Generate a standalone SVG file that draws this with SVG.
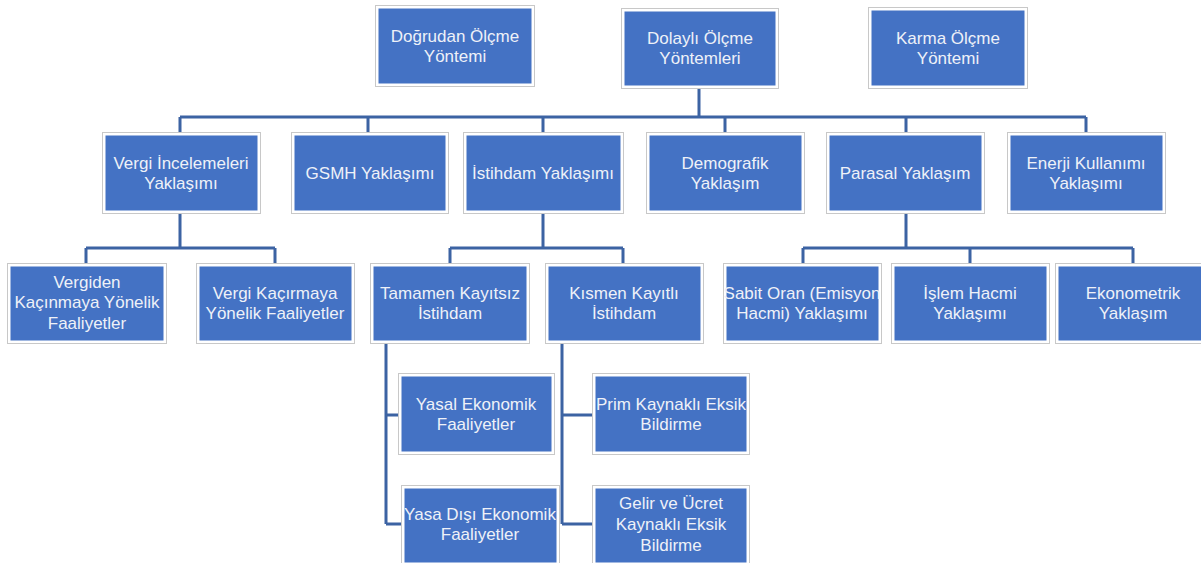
<svg xmlns="http://www.w3.org/2000/svg" width="1201" height="563" viewBox="0 0 1201 563">
<style>
.o{fill:#ffffff;stroke:#c8c8c8;stroke-width:1}
.b{fill:#4472C4}
.t{font-family:"Liberation Sans",Arial,sans-serif;font-size:17px;fill:#EEF1F8;text-anchor:middle}
.c{fill:none;stroke:#3C63A3;stroke-width:3}
</style>
<rect width="1201" height="563" fill="#ffffff"/>
<g id="connectors">
<path class="c" d="M699,88 V117 M180,117 H1086 M180,117 V132 M368,117 V132 M543,117 V132 M725,117 V132 M906,117 V132 M1086,117 V132"/>
<path class="c" d="M180,213 V248 M86,248 H275 M86,248 V263 M275,248 V263"/>
<path class="c" d="M543,213 V248 M450,248 H623 M450,248 V263 M623,248 V263"/>
<path class="c" d="M906,213 V248 M803,248 H1133 M803,248 V263 M970,248 V263 M1133,248 V263"/>
<path class="c" d="M386,343 V524 M386,415 H398 M386,524 H401"/>
<path class="c" d="M562,343 V524 M562,415 H592 M562,524 H592"/>
</g>
<g id="n1"><rect class="o" x="375.5" y="5.5" width="159" height="81"/><rect class="b" x="378.5" y="8.5" width="153" height="75"/><text class="t" x="455" y="42">Doğrudan Ölçme</text><text class="t" x="455" y="62">Yöntemi</text></g>
<g id="n2"><rect class="o" x="621.5" y="8.5" width="157" height="80"/><rect class="b" x="624.5" y="11.5" width="151" height="74"/><text class="t" x="700" y="44">Dolaylı Ölçme</text><text class="t" x="700" y="64">Yöntemleri</text></g>
<g id="n3"><rect class="o" x="868.5" y="7.5" width="159" height="81"/><rect class="b" x="871.5" y="10.5" width="153" height="75"/><text class="t" x="948" y="44">Karma Ölçme</text><text class="t" x="948" y="64">Yöntemi</text></g>
<g id="n4"><rect class="o" x="102.5" y="132.5" width="158" height="81"/><rect class="b" x="105.5" y="135.5" width="152" height="75"/><text class="t" x="181" y="169">Vergi İncelemeleri</text><text class="t" x="181" y="189">Yaklaşımı</text></g>
<g id="n5"><rect class="o" x="291.5" y="132.5" width="157" height="81"/><rect class="b" x="294.5" y="135.5" width="151" height="75"/><text class="t" x="370" y="179">GSMH Yaklaşımı</text></g>
<g id="n6"><rect class="o" x="463.5" y="132.5" width="160" height="81"/><rect class="b" x="466.5" y="135.5" width="154" height="75"/><text class="t" x="543" y="179">İstihdam Yaklaşımı</text></g>
<g id="n7"><rect class="o" x="646.5" y="132.5" width="158" height="81"/><rect class="b" x="649.5" y="135.5" width="152" height="75"/><text class="t" x="725" y="169">Demografik</text><text class="t" x="725" y="189">Yaklaşım</text></g>
<g id="n8"><rect class="o" x="826.5" y="132.5" width="158" height="81"/><rect class="b" x="829.5" y="135.5" width="152" height="75"/><text class="t" x="905" y="179">Parasal Yaklaşım</text></g>
<g id="n9"><rect class="o" x="1007.5" y="132.5" width="158" height="81"/><rect class="b" x="1010.5" y="135.5" width="152" height="75"/><text class="t" x="1086" y="169">Enerji Kullanımı</text><text class="t" x="1086" y="189">Yaklaşımı</text></g>
<g id="n10"><rect class="o" x="7.5" y="263.5" width="159" height="80"/><rect class="b" x="10.5" y="266.5" width="153" height="74"/><text class="t" x="87" y="288">Vergiden</text><text class="t" x="87" y="308">Kaçınmaya Yönelik</text><text class="t" x="87" y="329">Faaliyetler</text></g>
<g id="n11"><rect class="o" x="196.5" y="263.5" width="158" height="80"/><rect class="b" x="199.5" y="266.5" width="152" height="74"/><text class="t" x="275" y="299">Vergi Kaçırmaya</text><text class="t" x="275" y="319">Yönelik Faaliyetler</text></g>
<g id="n12"><rect class="o" x="370.5" y="263.5" width="159" height="80"/><rect class="b" x="373.5" y="266.5" width="153" height="74"/><text class="t" x="450" y="299">Tamamen Kayıtsız</text><text class="t" x="450" y="319">İstihdam</text></g>
<g id="n13"><rect class="o" x="545.5" y="263.5" width="158" height="80"/><rect class="b" x="548.5" y="266.5" width="152" height="74"/><text class="t" x="624" y="299">Kısmen Kayıtlı</text><text class="t" x="624" y="319">İstihdam</text></g>
<g id="n14"><rect class="o" x="723.5" y="263.5" width="158" height="80"/><rect class="b" x="726.5" y="266.5" width="152" height="74"/><text class="t" x="802" y="299">Sabit Oran (Emisyon</text><text class="t" x="802" y="319">Hacmi) Yaklaşımı</text></g>
<g id="n15"><rect class="o" x="891.5" y="263.5" width="158" height="80"/><rect class="b" x="894.5" y="266.5" width="152" height="74"/><text class="t" x="970" y="299">İşlem Hacmi</text><text class="t" x="970" y="319">Yaklaşımı</text></g>
<g id="n16"><rect class="o" x="1055.5" y="263.5" width="158" height="80"/><rect class="b" x="1058.5" y="266.5" width="152" height="74"/><text class="t" x="1133" y="299">Ekonometrik</text><text class="t" x="1133" y="319">Yaklaşım</text></g>
<g id="n17"><rect class="o" x="398.5" y="373.5" width="156" height="81"/><rect class="b" x="401.5" y="376.5" width="150" height="75"/><text class="t" x="476" y="410">Yasal Ekonomik</text><text class="t" x="476" y="430">Faaliyetler</text></g>
<g id="n18"><rect class="o" x="401.5" y="485.5" width="158" height="80"/><rect class="b" x="404.5" y="488.5" width="152" height="74"/><text class="t" x="480" y="520">Yasa Dışı Ekonomik</text><text class="t" x="480" y="540">Faaliyetler</text></g>
<g id="n19"><rect class="o" x="592.5" y="373.5" width="157" height="81"/><rect class="b" x="595.5" y="376.5" width="151" height="75"/><text class="t" x="671" y="410">Prim Kaynaklı Eksik</text><text class="t" x="671" y="430">Bildirme</text></g>
<g id="n20"><rect class="o" x="592.5" y="485.5" width="157" height="80"/><rect class="b" x="595.5" y="488.5" width="151" height="74"/><text class="t" x="671" y="509">Gelir ve Ücret</text><text class="t" x="671" y="530">Kaynaklı Eksik</text><text class="t" x="671" y="551">Bildirme</text></g>
</svg>
